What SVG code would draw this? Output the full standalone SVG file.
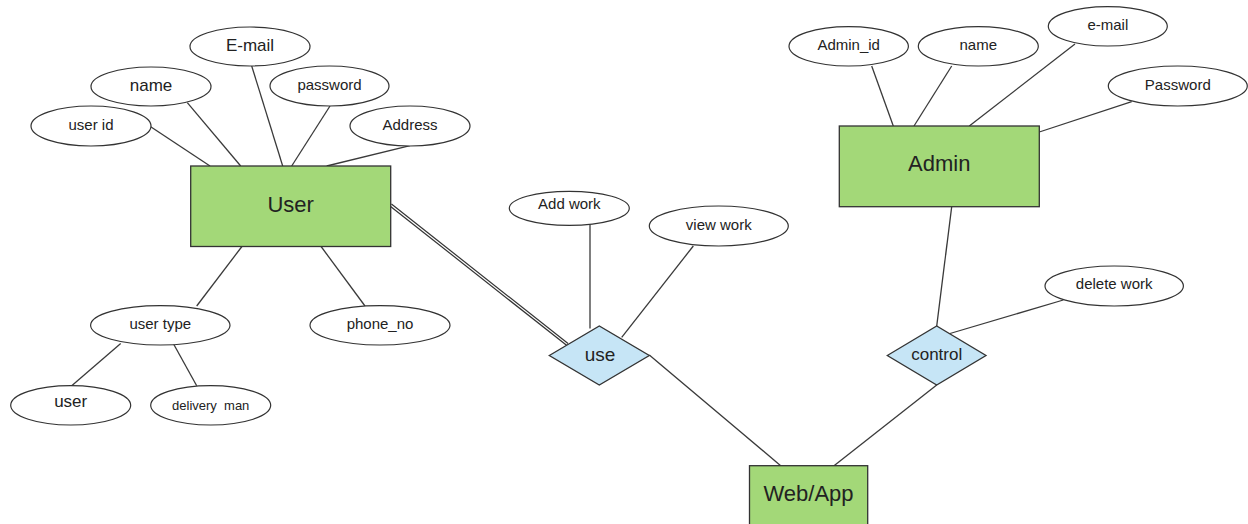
<svg xmlns="http://www.w3.org/2000/svg" width="1248" height="524" viewBox="0 0 1248 524">
<style>
.ell{fill:#fff;stroke:#333;stroke-width:1.2}
.ent{fill:#a3d878;stroke:#333;stroke-width:1.3}
.rel{fill:#c6e5f6;stroke:#333;stroke-width:1.3}
.ln{stroke:#3a3a3a;stroke-width:1.3;fill:none}
text{font-family:"Liberation Sans",Arial,sans-serif;fill:#222;text-anchor:middle;dominant-baseline:central}
.a{font-size:15px}
.b{font-size:17px}
.e{font-size:22px}
</style>
<rect width="1248" height="524" fill="#fff"/>
<g id="connectors">
<line class="ln" x1="150.7" y1="126.7" x2="210" y2="166"/>
<line class="ln" x1="187.3" y1="102.7" x2="240.7" y2="166"/>
<line class="ln" x1="251.7" y1="66" x2="282.7" y2="166"/>
<line class="ln" x1="330" y1="106" x2="291.7" y2="166"/>
<line class="ln" x1="410" y1="145.7" x2="326.7" y2="166"/>
<line class="ln" x1="242.3" y1="246" x2="196.7" y2="306"/>
<line class="ln" x1="320.7" y1="246" x2="365" y2="306"/>
<line class="ln" x1="120.7" y1="343.5" x2="71.7" y2="385.7"/>
<line class="ln" x1="173.3" y1="343.5" x2="196.7" y2="385.7"/>
<line x1="390.7" y1="205" x2="567.3" y2="344.4" stroke="#333" stroke-width="3.6"/>
<line x1="390.7" y1="205" x2="567.3" y2="344.4" stroke="#fff" stroke-width="1.2"/>
<line class="ln" x1="590" y1="225" x2="590" y2="328.5"/>
<line class="ln" x1="693.3" y1="246" x2="621.7" y2="337.3"/>
<line class="ln" x1="649.3" y1="355" x2="780.7" y2="465.7"/>
<line class="ln" x1="936.7" y1="385" x2="834" y2="465.7"/>
<line class="ln" x1="951.7" y1="206.7" x2="936.7" y2="326"/>
<line class="ln" x1="1063.3" y1="300" x2="950" y2="333.5"/>
<line class="ln" x1="871.7" y1="66" x2="893.3" y2="126"/>
<line class="ln" x1="951.7" y1="66" x2="914" y2="126"/>
<line class="ln" x1="1075" y1="44" x2="969.3" y2="126"/>
<line class="ln" x1="1131.7" y1="101.7" x2="1039.3" y2="132"/>
</g>
<g id="user"><rect class="ent" x="190.7" y="166" width="200" height="80.5"/><text class="e" x="290.7" y="204">User</text></g>
<g id="user_id"><ellipse class="ell" cx="91" cy="126" rx="60" ry="20"/><text class="a" x="91" y="124">user id</text></g>
<g id="user_name"><ellipse class="ell" cx="151" cy="86.5" rx="60" ry="19.5"/><text class="b" x="151" y="85.5">name</text></g>
<g id="user_email"><ellipse class="ell" cx="250" cy="46.5" rx="60" ry="19.5"/><text class="b" x="250" y="45">E-mail</text></g>
<g id="user_password"><ellipse class="ell" cx="329.5" cy="86" rx="59.5" ry="20"/><text class="a" x="329.5" y="84">password</text></g>
<g id="user_address"><ellipse class="ell" cx="410" cy="126" rx="60" ry="20"/><text class="a" x="410" y="124">Address</text></g>
<g id="user_type"><ellipse class="ell" cx="160.3" cy="325.3" rx="69.7" ry="19.7"/><text class="a" x="160.3" y="323.5">user type</text></g>
<g id="phone_no"><ellipse class="ell" cx="380" cy="325.3" rx="70" ry="19.7"/><text class="a" x="380" y="323.5">phone_no</text></g>
<g id="type_user"><ellipse class="ell" cx="70.7" cy="405.3" rx="60" ry="19.7"/><text class="b" x="70.7" y="401.5">user</text></g>
<g id="type_delivery"><ellipse class="ell" cx="210.7" cy="405.3" rx="60" ry="19.7"/><text class="a" x="210.7" y="405" style="font-size:13px" xml:space="preserve">delivery  man</text></g>
<g id="use"><polygon class="rel" points="549.3,355.5 599.3,326 649.3,355.5 599.3,385"/><text class="b" x="600" y="354" style="font-size:19px">use</text></g>
<g id="add_work"><ellipse class="ell" cx="569.3" cy="208.3" rx="60" ry="17"/><text class="a" x="569.3" y="203.5">Add work</text></g>
<g id="view_work"><ellipse class="ell" cx="718.8" cy="226" rx="69.5" ry="20"/><text class="a" x="718.8" y="224">view work</text></g>
<g id="webapp"><rect class="ent" x="749.5" y="465.7" width="118.2" height="70"/><text class="e" x="808.5" y="493">Web/App</text></g>
<g id="control"><polygon class="rel" points="887.3,355.5 936.7,326 986,355.5 936.7,385"/><text class="b" x="936.7" y="354">control</text></g>
<g id="delete_work"><ellipse class="ell" cx="1114.2" cy="286" rx="69.2" ry="20"/><text class="a" x="1114.2" y="283.5">delete work</text></g>
<g id="admin"><rect class="ent" x="839.3" y="126" width="200" height="80.7"/><text class="e" x="939.3" y="163">Admin</text></g>
<g id="admin_id"><ellipse class="ell" cx="848.7" cy="46.3" rx="59.7" ry="19.7"/><text class="a" x="848.7" y="44.5">Admin_id</text></g>
<g id="admin_name"><ellipse class="ell" cx="978.3" cy="46.3" rx="60" ry="19.7"/><text class="a" x="978.3" y="44.5">name</text></g>
<g id="admin_email"><ellipse class="ell" cx="1107.8" cy="26.3" rx="59.5" ry="19.7"/><text class="a" x="1107.8" y="24.5">e-mail</text></g>
<g id="admin_password"><ellipse class="ell" cx="1177.8" cy="86" rx="69.5" ry="20"/><text class="a" x="1177.8" y="84">Password</text></g>
</svg>
